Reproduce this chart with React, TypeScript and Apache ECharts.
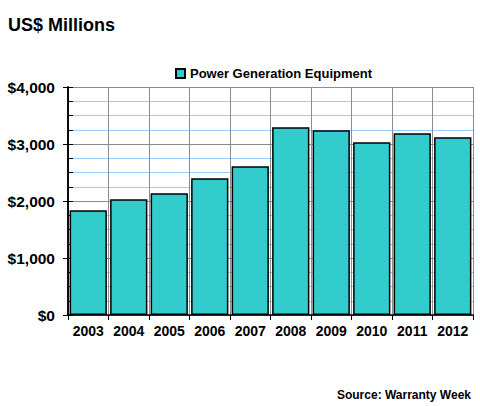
import React, { useEffect, useRef } from "react";
import * as echarts from "echarts";

const categories = ["2003", "2004", "2005", "2006", "2007", "2008", "2009", "2010", "2011", "2012"];
const seriesName = "Power Generation Equipment";
const values = [1837, 2030, 2135, 2398, 2609, 3293, 3240, 3030, 3188, 3118];
const yMin = 0;
const yMax = 4000;
const yInterval = 1000;
const titleText = "US$ Millions";
const sourceText = "Source: Warranty Week";

const FONT = "'Liberation Sans', Arial, sans-serif";

export default function App() {
  const ref = useRef<HTMLDivElement>(null);
  useEffect(() => {
    if (!ref.current) return;
    const chart = echarts.init(ref.current, undefined, { renderer: "svg" });
    const fmt = (v: number) => "$" + v.toLocaleString("en-US");
    chart.setOption({
      animation: false,
      backgroundColor: "#ffffff",
      textStyle: { fontFamily: FONT },
      title: {
        text: titleText,
        left: 3,
        top: 11,
        textStyle: { fontFamily: FONT, fontSize: 18, fontWeight: "bold", color: "#000" },
      },
      legend: {
        data: [seriesName],
        left: 170,
        top: 62,
        icon: "rect",
        itemWidth: 9,
        itemHeight: 9,
        itemGap: 4,
        textStyle: { fontFamily: FONT, fontSize: 13, fontWeight: "bold", color: "#000" },
      },
      graphic: [
        {
          type: "text",
          x: 471,
          y: 395,
          style: {
            text: sourceText,
            font: "bold 12px " + FONT,
            fill: "#000",
            align: "right",
            verticalAlign: "middle",
          },
        },
      ],
      grid: { left: 68, right: 7, top: 87, bottom: 91 },
      xAxis: {
        type: "category",
        data: categories,
        boundaryGap: true,
        axisLine: { lineStyle: { color: "#000", width: 1.5 } },
        axisTick: { show: true, length: 5, lineStyle: { color: "#000" } },
        axisLabel: { fontFamily: FONT, fontSize: 14, fontWeight: "bold", color: "#000", margin: 9, interval: 0 },
        splitLine: { show: true, interval: 0, lineStyle: { color: "#8c8c8c", width: 1 } },
      },
      yAxis: [
        {
          type: "value",
          min: yMin,
          max: yMax,
          interval: yInterval,
          axisLine: { show: true, lineStyle: { color: "#000", width: 1.5 } },
          axisTick: { show: true, length: 5, lineStyle: { color: "#000" } },
          axisLabel: {
            fontFamily: FONT,
            fontSize: 15.5,
            fontWeight: "bold",
            color: "#000",
            margin: 13,
            formatter: fmt,
          },
          splitLine: { show: true, lineStyle: { color: "#8c8c8c", width: 1 } },
          minorTick: { show: false, splitNumber: 4 },
          minorSplitLine: { show: true, lineStyle: { color: "#99ccff", width: 1 } },
        },
        {
          type: "value",
          position: "left",
          min: yMin,
          max: yMax,
          interval: yInterval,
          axisLine: { show: true, lineStyle: { color: "#000", width: 1.5 } },
          axisTick: { show: true, inside: true, length: 5, lineStyle: { color: "#000" } },
          axisLabel: { show: false },
          splitLine: { show: false },
          minorTick: { show: true, splitNumber: 4, length: 5, lineStyle: { color: "#000" } },
        },
      ],
      series: [
        {
          name: seriesName,
          type: "bar",
          data: values,
          yAxisIndex: 0,
          barCategoryGap: "8%",
          itemStyle: { color: "#33cccc", borderColor: "#000", borderWidth: 1.5 },
        },
      ],
    });
    return () => chart.dispose();
  }, []);
  return (
    <div
      ref={ref}
      style={{ position: "absolute", left: 0, top: 0, width: 480, height: 406 }}
    />
  );
}
